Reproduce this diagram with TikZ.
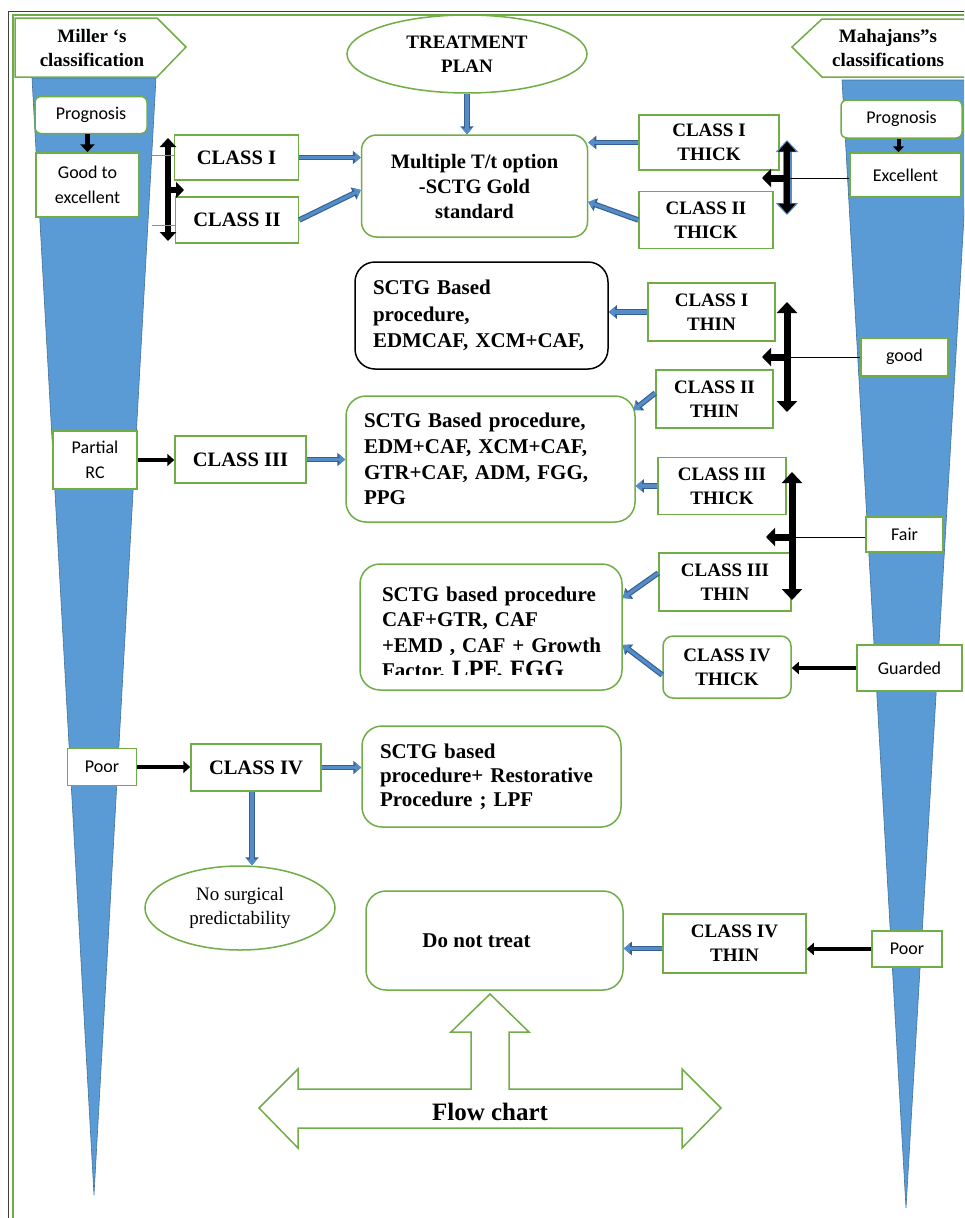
\documentclass[tikz,border=0pt]{standalone}
\usepackage{fontspec}
\setmainfont{Liberation Serif}
\newfontfamily\calfont{Carlito}
\usetikzlibrary{shapes.geometric,arrows.meta,calc}
\definecolor{gr}{RGB}{112,173,71}
\definecolor{fb}{RGB}{91,155,213}
\definecolor{fbd}{RGB}{65,113,156}
\definecolor{ab}{RGB}{84,140,200}
\definecolor{abd}{RGB}{55,96,146}
\newcommand\fsz[2]{\fontsize{#1}{#2}\selectfont}
\begin{document}
\begin{tikzpicture}[x=1pt,y=-1pt,
 gbox/.style={draw=gr,line width=1.5pt,fill=white,inner sep=0pt,align=center},
 cls/.style={gbox,font=\fsz{20.5}{24}\bfseries},
 clsr/.style={gbox,font=\fsz{19}{24}\bfseries},
 sansbox/.style={gbox,font=\calfont\fsz{18}{25}},
 sbox/.style={gbox,rounded corners=20pt,align=left,inner xsep=18pt,inner ysep=0pt,font=\fsz{21}{26}\bfseries},
 barrow/.style={preaction={draw=abd,line width=5.5pt,-{Triangle[length=8pt,width=13pt]}},draw=ab,line width=3.2pt,-{Triangle[length=6pt,width=10pt]}},
 karrow/.style={draw=black,line width=4.5pt,-{Triangle[length=7pt,width=12pt]}},
 dbl/.style={draw=black,line width=7pt,{Triangle[length=11pt,width=20pt]}-{Triangle[length=11pt,width=20pt]}},
 stub/.style={draw=black,line width=7pt,-{Triangle[length=9pt,width=18pt]}},
 thinl/.style={draw=black,line width=0.8pt},
 thinb/.style={draw=fb,line width=0.8pt},
 ]
\useasboundingbox (0,0) rectangle (964,1218);
\fill[white] (0,0) rectangle (964,1218);
\begin{scope}
\clip (0,0) rectangle (964,1218);
\draw[black!75,line width=1pt] (8,11) rectangle (1000,1250);
\draw[gr,line width=1.5pt] (13,15) rectangle (995,1245);
% funnels
\fill[fb,draw=fbd,line width=0.6pt] (32,78) -- (156,78) -- (94,1195) -- cycle;
\fill[fb,draw=fbd,line width=0.6pt] (842,80) -- (972,80) -- (906,1208) -- cycle;
% headers
\draw[gr,line width=1.5pt,fill=white] (15,18) -- (157,18) -- (186,47) -- (157,77) -- (15,77) -- cycle;
\draw[gr,line width=1.5pt,fill=white] (990,19) -- (822,19) -- (792,47) -- (822,77) -- (990,77);
\end{scope}
\node[align=center,font=\fsz{19}{24}\bfseries] (miller) at (92,48) {Miller ‘s\\classification};
\node[align=center,font=\fsz{19}{24}\bfseries] (mah) at (888,48) {Mahajans”s\\classifications};
\node[draw=gr,line width=1.5pt,ellipse,fill=white,minimum width=240pt,minimum height=78pt,inner sep=0pt,align=center,font=\fsz{19}{24}\bfseries] (treat) at (467,54) {TREATMENT\\PLAN};
\node[gbox,rounded corners=15pt,minimum width=226pt,minimum height=102pt,font=\fsz{20.5}{25}\bfseries] (mult) at (474.5,186) {Multiple T/t option\\-SCTG Gold\\standard};
% left column
\node[sansbox,rounded corners=6pt,minimum width=112pt,minimum height=37pt] (progL) at (91,115) {Prognosis};
\node[sansbox,minimum width=103pt,minimum height=64pt] (goodL) at (87.5,185) {Good to\\excellent};
\node[cls,minimum width=124pt,minimum height=45pt] (c1L) at (236.5,157.5) {CLASS I};
\node[cls,minimum width=123pt,minimum height=46pt] (c2L) at (237,220) {CLASS II};
\node[sansbox,minimum width=84pt,minimum height=58pt] (partial) at (95,460) {Partial\\RC};
\node[cls,minimum width=131pt,minimum height=47pt] (c3L) at (240.5,459.5) {CLASS III};
\node[sansbox,minimum width=69pt,minimum height=37pt] (poorL) at (102,767) {Poor};
\node[cls,minimum width=130pt,minimum height=47pt] (c4L) at (256,767.5) {CLASS IV};
% right column
\node[sansbox,rounded corners=6pt,minimum width=121pt,minimum height=38pt] (progR) at (901.5,119) {Prognosis};
\node[sansbox,minimum width=111pt,minimum height=44pt] (excR) at (905.5,175) {Excellent};
\node[sansbox,minimum width=87pt,minimum height=38pt] (goodR) at (904.5,357) {good};
\node[sansbox,minimum width=77pt,minimum height=35pt] (fair) at (904.5,534.5) {Fair};
\node[sansbox,minimum width=105pt,minimum height=46pt] (guarded) at (909.5,668) {Guarded};
\node[sansbox,minimum width=70pt,minimum height=36pt] (poorR) at (907,949) {Poor};
\node[clsr,minimum width=140pt,minimum height=55pt] (c1thick) at (709,142.5) {CLASS I\\THICK};
\node[clsr,minimum width=134pt,minimum height=57pt] (c2thick) at (706,220) {CLASS II\\THICK};
\node[clsr,minimum width=127pt,minimum height=58pt] (c1thin) at (711.5,312) {CLASS I\\THIN};
\node[clsr,minimum width=117pt,minimum height=58pt] (c2thin) at (714.5,399) {CLASS II\\THIN};
\node[clsr,minimum width=128pt,minimum height=57pt] (c3thick) at (722,486) {CLASS III\\THICK};
\node[clsr,minimum width=132pt,minimum height=58pt] (c3thin) at (725,582) {CLASS III\\THIN};
\node[clsr,rounded corners=10pt,minimum width=128pt,minimum height=62pt] (c4thick) at (727,667) {CLASS IV\\THICK};
\node[clsr,minimum width=143pt,minimum height=59pt] (c4thin) at (734.5,943.5) {CLASS IV\\THIN};
% procedure boxes
\node[sbox,draw=black,text width=217pt,minimum height=107pt,font=\fsz{21}{26.5}\bfseries] (box1) at (481.5,315.5) {SCTG Based\\procedure,\\EDMCAF, XCM+CAF,};
\node[sbox,text width=253pt,minimum height=126pt,font=\fsz{21}{25.7}\bfseries] (box2) at (490.5,459) {SCTG Based procedure,\\EDM+CAF, XCM+CAF,\\GTR+CAF, ADM, FGG,\\PPG};
\node[sbox,text width=226pt,minimum height=126pt] (box3) at (491,627) {};
\begin{scope}
\clip (362,566) rectangle (620,674);
\node[align=left,inner sep=0pt,text width=222pt,font=\fsz{21}{25.5}\bfseries] (box3t) at (493,634) {SCTG based procedure\\CAF+GTR, CAF\\+EMD , CAF + Growth\\Factor, {\fsz{25}{25.5}LPF, FGG}};
\end{scope}
\node[sbox,text width=223pt,minimum height=101pt,font=\fsz{21}{24}\bfseries] (box4) at (491.5,776.5) {SCTG based\\procedure+ Restorative\\Procedure ; LPF};
\node[draw=gr,line width=1.5pt,ellipse,fill=white,minimum width=190pt,minimum height=84pt,inner sep=0pt,align=center,font=\fsz{19}{24}] (nosurg) at (240,908) {No surgical\\predictability};
\node[gbox,rounded corners=20pt,minimum width=257pt,minimum height=99pt,font=\fsz{21}{26}\bfseries] (dont) at (494.5,940.5) {Do not treat\hspace*{36pt}};
% flow chart block arrow
\draw[gr,line width=1.5pt,fill=white] (490,994) -- (529,1032) -- (509,1032) -- (509,1089) -- (682,1089) -- (682,1069) -- (721,1108) -- (682,1148) -- (682,1128) -- (298,1128) -- (298,1148) -- (259,1108) -- (298,1069) -- (298,1089) -- (471,1089) -- (471,1032) -- (451,1032) -- cycle;
\node[font=\fsz{25}{30}\bfseries] (flow) at (490,1112) {Flow chart};
% blue arrows
\draw[barrow] (treat.south) -- (treat.south |- mult.north);
\draw[barrow] (c1L.east) -- (c1L.east -| mult.west);
\draw[barrow] (c2L.east) -- ([yshift=-4pt]mult.west);
\draw[barrow] (c1thick.west) -- (c1thick.west -| mult.east);
\draw[barrow] (c2thick.west) -- ([yshift=-16pt]mult.east);
\draw[barrow] (c1thin.west) -- (c1thin.west -| box1.east);
\draw[barrow] ([yshift=6pt]c2thin.west) -- ([xshift=-2pt,yshift=49pt]box2.east);
\draw[barrow] (c3thick.west) -- (c3thick.west -| box2.east);
\draw[barrow] (c3L.east) -- (c3L.east -| box2.west);
\draw[barrow] ([yshift=9pt]c3thin.west) -- ([yshift=29pt]box3.east);
\draw[barrow] ([yshift=-8pt]c4thick.west) -- ([yshift=-18pt]box3.east);
\draw[barrow] (c4L.east) -- (c4L.east -| box4.west);
\draw[barrow] ([xshift=-4pt]c4L.south) -- ([xshift=-4pt]c4L.south |- nosurg.north);
\draw[barrow] ([yshift=-5pt]c4thin.west) -- ([yshift=-5pt]c4thin.west -| dont.east);
% black arrows
\draw[karrow,line width=5.5pt,-{Triangle[length=8pt,width=14pt]}] (goodL.north |- progL.south) -- (goodL.north);
\draw[karrow,line width=4pt,-{Triangle[length=6pt,width=11pt]}] ([xshift=-7pt]excR.north |- progR.south) -- ([xshift=-7pt]excR.north);
\draw[karrow] (partial.east) -- (partial.east -| c3L.west);
\draw[karrow] (poorL.east) -- (poorL.east -| c4L.west);
\draw[karrow] (guarded.west) -- (guarded.west -| c4thick.east);
\draw[karrow] (poorR.west) -- (poorR.west -| c4thin.east);
% left bracket
\coordinate (la1) at (168,138);
\coordinate (la2) at (168,241);
\coordinate (lj) at (168,190);
\coordinate (lh) at (184,190);
\draw[dbl,line width=6pt,{Triangle[length=9pt,width=16pt]}-{Triangle[length=9pt,width=16pt]}] (la1) -- (la2);
\draw[stub,line width=6pt,-{Triangle[length=8pt,width=16pt]}] (lj) -- (lh);
\coordinate (tl1) at (152,155);
\coordinate (tl2) at (152,225);
\draw[thinb] (tl1) -- (tl1 -| c1L.west);
\draw[thinb] (tl2) -- (tl2 -| c2L.west);
% right brackets
\coordinate (r1a) at (787,140);
\coordinate (r1b) at (787,215);
\coordinate (r1j) at (787,178);
\coordinate (r1h) at (762,178);
\draw[dbl,draw=ab,line width=9pt,{Triangle[length=12pt,width=22pt]}-{Triangle[length=12pt,width=22pt]}] (r1a) -- (r1b);
\draw[dbl,line width=6pt,{Triangle[length=10pt,width=17pt]}-{Triangle[length=10pt,width=17pt]}] ([yshift=-1.5pt]r1a) -- ([yshift=1.5pt]r1b);
\draw[thinl] (excR.west |- r1j) -- (r1j);
\draw[stub] (r1j) -- (r1h);
\coordinate (r2a) at (787,302);
\coordinate (r2b) at (787,412);
\coordinate (r2j) at (787,357);
\coordinate (r2h) at (762,357);
\draw[dbl] (r2a) -- (r2b);
\draw[thinl] (goodR.west) -- (goodR.west -| r2j);
\draw[stub] (r2j) -- (r2h);
\coordinate (r3a) at (792,472);
\coordinate (r3b) at (792,600);
\coordinate (r3j) at (792,537);
\coordinate (r3h) at (766,537);
\draw[dbl] (r3a) -- (r3b);
\draw[thinl] (fair.west |- r3j) -- (r3j);
\draw[stub] (r3j) -- (r3h);
\end{tikzpicture}
\end{document}
